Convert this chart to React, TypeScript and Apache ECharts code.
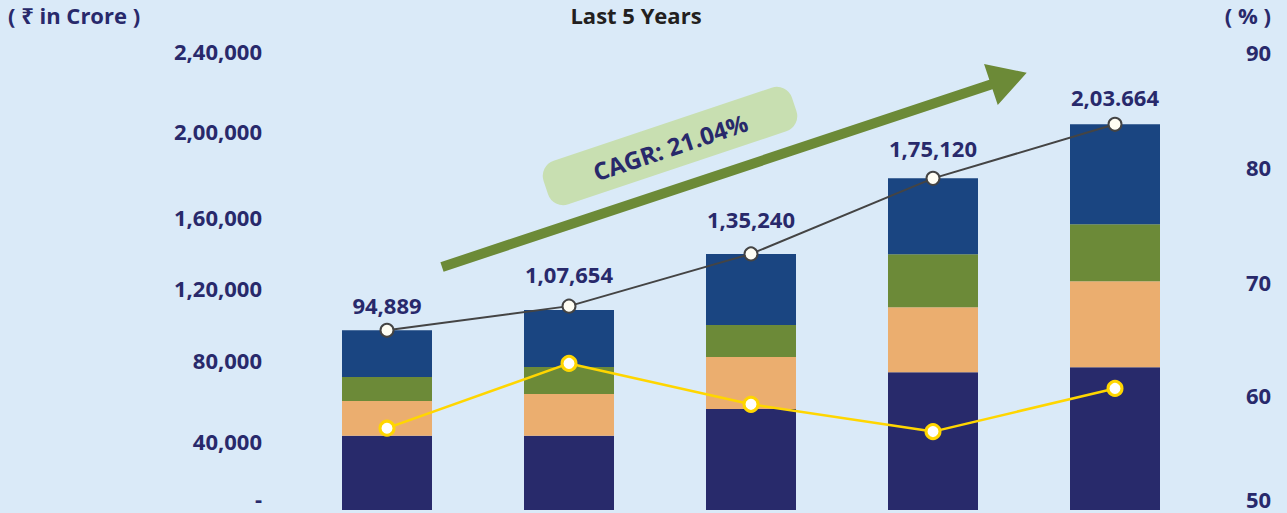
import React, { useEffect, useRef } from "react";
import * as echarts from "echarts";

// ---------- data ----------
const years = ["Year 1", "Year 2", "Year 3", "Year 4", "Year 5"];
const segNavy = [39200, 39200, 53300, 72800, 75400];
const segOrange = [18300, 22000, 27500, 34300, 45400];
const segGreen = [12700, 14300, 16900, 27900, 30100];
const segBlue = [24689, 30100, 37540, 40120, 52764];
const totals = [94889, 107654, 135240, 175120, 203664];
const totalLabels = ["94,889", "1,07,654", "1,35,240", "1,75,120", "2,03.664"];
const ratioPct = [57.2, 62.9, 59.3, 56.9, 60.7];
const leftTicks = ["-", "40,000", "80,000", "1,20,000", "1,60,000", "2,00,000", "2,40,000"];
const rightTicks = ["50", "60", "70", "80", "90"];
const cagrText = "CAGR: 21.04%";

// ---------- layout nudges (px) ----------
const leftNudge = [-12, 7, 1, 5, 10, 0, -5]; // + = down
const rightNudge = [-11, -1, -1, -2, -4];
const totalLabelLift = [0, 7, 9, 5, 2]; // extra lift of value labels

const FONT = "'Open Sans', 'Noto Sans', 'DejaVu Sans', sans-serif";
const TXT = "#28296b";

function nudgeRich(nudges: number[]) {
  const rich: Record<string, any> = {};
  nudges.forEach((d, i) => {
    rich["n" + i] = {
      fontFamily: FONT,
      fontSize: 22,
      fontWeight: "bold",
      color: TXT,
      padding: d >= 0 ? [2 * d, 0, 0, 0] : [0, 0, -2 * d, 0],
    };
  });
  return rich;
}

export default function App() {
  const ref = useRef<HTMLDivElement>(null);
  useEffect(() => {
    const chart = echarts.init(ref.current!, null, { renderer: "svg" });

    // arrow geometry (decoration)
    const th = (18.5 * Math.PI) / 180;
    const n = [Math.sin(th), Math.cos(th)];
    const S = [442, 267];
    const B = [990.9, 84.5];
    const T = [1026.7, 72.7];
    const p = (c: number[], k: number) => [c[0] + k * n[0], c[1] + k * n[1]];
    const arrowPts = [p(S, -5), p(B, -5), p(B, -21.6), T, p(B, 21.6), p(B, 5), p(S, 5)];

    const option: any = {
      animation: false,
      backgroundColor: "#daeaf8",
      grid: { left: 296, right: 81, top: 55.5, bottom: 3, containLabel: false },
      xAxis: {
        type: "category",
        data: years,
        axisLine: { show: false },
        axisTick: { show: false },
        axisLabel: { show: false },
      },
      yAxis: [
        {
          type: "value",
          min: 0,
          max: 240000,
          interval: 40000,
          splitLine: { show: false },
          axisLine: { show: false },
          axisTick: { show: false },
          axisLabel: {
            margin: 34,
            formatter: (v: number) => {
              const i = Math.round(v / 40000);
              return `{n${i}|${leftTicks[i]}}`;
            },
            rich: nudgeRich(leftNudge),
          },
        },
        {
          type: "value",
          min: 50,
          max: 90,
          interval: 10,
          splitLine: { show: false },
          axisLine: { show: false },
          axisTick: { show: false },
          axisLabel: {
            margin: 40,
            formatter: (v: number) => {
              const i = Math.round((v - 50) / 10);
              return `{n${i}|${rightTicks[i]}}`;
            },
            rich: nudgeRich(rightNudge),
          },
        },
      ],
      series: [
        { type: "bar", stack: "s", barWidth: 90, data: segNavy, itemStyle: { color: "#282a6b" } },
        { type: "bar", stack: "s", barWidth: 90, data: segOrange, itemStyle: { color: "#ebae6f" } },
        { type: "bar", stack: "s", barWidth: 90, data: segGreen, itemStyle: { color: "#6c8a38" } },
        { type: "bar", stack: "s", barWidth: 90, data: segBlue, itemStyle: { color: "#1a4581" } },
        {
          type: "line",
          yAxisIndex: 0,
          data: totals.map((v, i) => ({
            value: v,
            label: { offset: [0, -totalLabelLift[i]] },
          })),
          z: 5,
          symbol: "circle",
          symbolSize: 13,
          lineStyle: { color: "#444444", width: 2 },
          itemStyle: { color: "#fffef4", borderColor: "#444444", borderWidth: 2 },
          label: {
            show: true,
            position: "top",
            distance: 7,
            formatter: (pp: any) => totalLabels[pp.dataIndex],
            fontFamily: FONT,
            fontSize: 22,
            fontWeight: "bold",
            color: TXT,
          },
        },
        {
          type: "line",
          yAxisIndex: 1,
          data: ratioPct,
          z: 5,
          symbol: "circle",
          symbolSize: 14,
          lineStyle: { color: "#ffd600", width: 2.5 },
          itemStyle: { color: "#ffffff", borderColor: "#ffd600", borderWidth: 3 },
        },
      ],
      graphic: [
        {
          type: "text",
          x: 8,
          y: 15,
          style: {
            text: "( ₹ in Crore )",
            font: `bold 22px ${FONT}`,
            fill: TXT,
            align: "left",
            verticalAlign: "middle",
          },
        },
        {
          type: "text",
          x: 636,
          y: 15,
          style: {
            text: "Last 5 Years",
            font: `bold 22px ${FONT}`,
            fill: "#231f20",
            align: "center",
            verticalAlign: "middle",
          },
        },
        {
          type: "text",
          x: 1271,
          y: 15,
          style: {
            text: "( % )",
            font: `bold 22px ${FONT}`,
            fill: TXT,
            align: "right",
            verticalAlign: "middle",
          },
        },
        {
          type: "polygon",
          shape: { points: arrowPts },
          style: { fill: "#6c8a37" },
          z: 10,
        },
        {
          type: "group",
          x: 670,
          y: 146,
          rotation: th,
          z: 10,
          children: [
            {
              type: "rect",
              shape: { x: -131, y: -23, width: 262, height: 46, r: 16 },
              style: { fill: "#c8dfb1" },
            },
            {
              type: "text",
              x: 0,
              y: 1,
              style: {
                text: cagrText,
                font: `bold 24px ${FONT}`,
                fill: TXT,
                align: "center",
                verticalAlign: "middle",
              },
            },
          ],
        },
      ],
    };
    chart.setOption(option);
    return () => chart.dispose();
  }, []);
  return (
    <div
      ref={ref}
      style={{ position: "fixed", left: 0, top: 0, width: 1287, height: 513, background: "#daeaf8" }}
    />
  );
}
